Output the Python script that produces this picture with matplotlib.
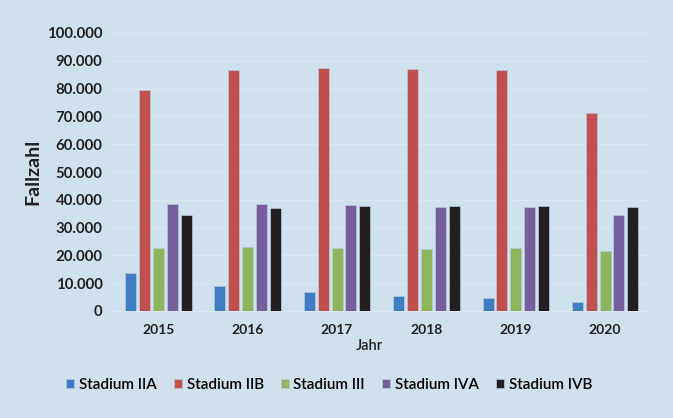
import matplotlib.pyplot as plt
import numpy as np
from matplotlib.ticker import FuncFormatter

plt.rcParams['font.family'] = ['Lato', 'DejaVu Sans']

# data
years = ['2015', '2016', '2017', '2018', '2019', '2020']
stadium_iia = [13500, 9000, 6800, 5500, 4800, 3300]
stadium_iib = [79600, 86800, 87500, 87100, 86800, 71300]
stadium_iii = [22800, 23200, 22800, 22200, 22700, 21600]
stadium_iva = [38600, 38600, 38100, 37500, 37500, 34400]
stadium_ivb = [34400, 37200, 37900, 37700, 37900, 37400]

series = [stadium_iia, stadium_iib, stadium_iii, stadium_iva, stadium_ivb]
labels = ['Stadium IIA', 'Stadium IIB', 'Stadium III', 'Stadium IVA', 'Stadium IVB']
colors = ['#3f7cc2', '#c0504d', '#8db65c', '#765e9c', '#231f20']

bg = '#cfe1ed'
fig = plt.figure(figsize=(6.73, 4.18), dpi=100, facecolor=bg)
ax = fig.add_axes([113 / 673, 1 - 311 / 418, 535 / 673, 278 / 418], facecolor=bg)

x = np.arange(len(years))
pitch = 0.155
width = 0.123
for i, (vals, lab, col) in enumerate(zip(series, labels, colors)):
    ax.bar(x + (i - 2) * pitch, vals, width, color=col, label=lab,
           edgecolor='#b8c8dc', linewidth=0.5, zorder=3)

ax.set_ylim(0, 100000)
ax.set_xlim(-0.507, 5.48)
ax.set_yticks(range(0, 100001, 10000))
ax.yaxis.set_major_formatter(FuncFormatter(lambda v, p: '0' if v == 0 else f'{int(v):,}'.replace(',', '.')))
ax.set_xticks(x)
ax.set_xticklabels(years)

ax.grid(axis='y', color='#dce8f1', linewidth=0.8, zorder=0)
for s in ['top', 'right', 'left']:
    ax.spines[s].set_visible(False)
ax.spines['bottom'].set_color('#dce8f1')
ax.tick_params(axis='both', length=0)
ax.tick_params(axis='y', labelsize=10.8, pad=7.5, colors='#231f20')
ax.tick_params(axis='x', labelsize=10, pad=9.5, colors='#231f20')
for t in ax.get_yticklabels():
    t.set_fontweight('bold')
for t in ax.get_xticklabels():
    t.set_fontweight('bold')

ax.set_ylabel('Fallzahl', fontsize=14, fontweight='bold', color='#231f20')
ax.yaxis.set_label_coords(-(113 - 41) / 535, 0.5)
ax.set_xlabel('Jahr', fontsize=10.5, fontweight='semibold', color='#231f20')
ax.xaxis.set_label_coords((369 - 113) / 535, -0.1)

fig.legend(loc='center', bbox_to_anchor=(329 / 673, 1 - 385 / 418), ncol=5, frameon=False,
           fontsize=11, prop={'weight': 'semibold', 'size': 11},
           handlelength=0.55, handleheight=0.55, handletextpad=0.3,
           columnspacing=1.1)

fig.savefig('out.png', dpi=100, facecolor=bg)
